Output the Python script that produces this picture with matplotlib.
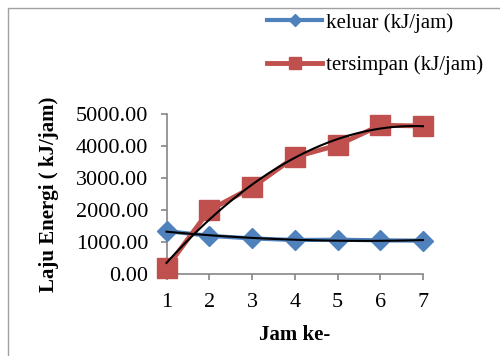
import numpy as np
import matplotlib.pyplot as plt
from matplotlib.patches import Rectangle

# data
jam = [1, 2, 3, 4, 5, 6, 7]
keluar = [1350, 1200, 1120, 1070, 1080, 1060, 1050]
tersimpan = [200, 2000, 2710, 3660, 4030, 4650, 4630]
yticks = [0, 1000, 2000, 3000, 4000, 5000]

plt.rcParams['font.family'] = 'Liberation Serif'

fig = plt.figure(figsize=(5, 3.56), dpi=100)
ax = fig.add_axes([0.333, 0.2295, 0.513, 0.450])

# outer chart frame (cut by image edge on right and bottom)
fig.patches.append(Rectangle((8 / 500, -0.2), 1.2, 1.2 - 8 / 356,
                             transform=fig.transFigure, fill=False,
                             edgecolor='#a0a0a0', linewidth=1.0))

blue = '#4F81BD'
red = '#C0504D'
ax.plot(jam, keluar, color=blue, lw=3, marker='D', ms=10,
        label='keluar (kJ/jam)', clip_on=False, zorder=3)
ax.plot(jam, tersimpan, color=red, lw=3.5, marker='s', ms=14,
        label='tersimpan (kJ/jam)', clip_on=False, zorder=3)

# polynomial trendlines
xs = np.linspace(1, 7, 100)
for ys in (keluar, tersimpan):
    c = np.polyfit(jam, ys, 2)
    ax.plot(xs, np.polyval(c, xs), color='black', lw=1.5, zorder=4, clip_on=False)

ax.set_xlim(1, 7)
ax.set_ylim(0, 5000)
ax.set_xticks(jam)
ax.set_yticks(yticks)
ax.set_yticklabels(['%.2f' % v for v in yticks])
for s in ('top', 'right'):
    ax.spines[s].set_visible(False)
for s in ('left', 'bottom'):
    ax.spines[s].set_color('#868686')
    ax.spines[s].set_linewidth(1.2)
ax.tick_params(axis='both', colors='#868686', labelcolor='black', labelsize=16,
               length=4.5, width=1.2)
ax.tick_params(axis='x', pad=9)
ax.tick_params(axis='y', pad=8.5)

ax.set_ylabel('Laju Energi ( kJ/jam)', fontsize=15, fontweight='bold', labelpad=12)
ax.set_xlabel('Jam ke-', fontsize=15, fontweight='bold', labelpad=9)

fig.legend(loc='upper left', bbox_to_anchor=(0.534, 0.964), frameon=False,
           fontsize=15, labelspacing=1.1, handlelength=2.64, handletextpad=0.2,
           borderpad=0, borderaxespad=0, markerscale=0.65)

fig.savefig('out.png', dpi=100)
